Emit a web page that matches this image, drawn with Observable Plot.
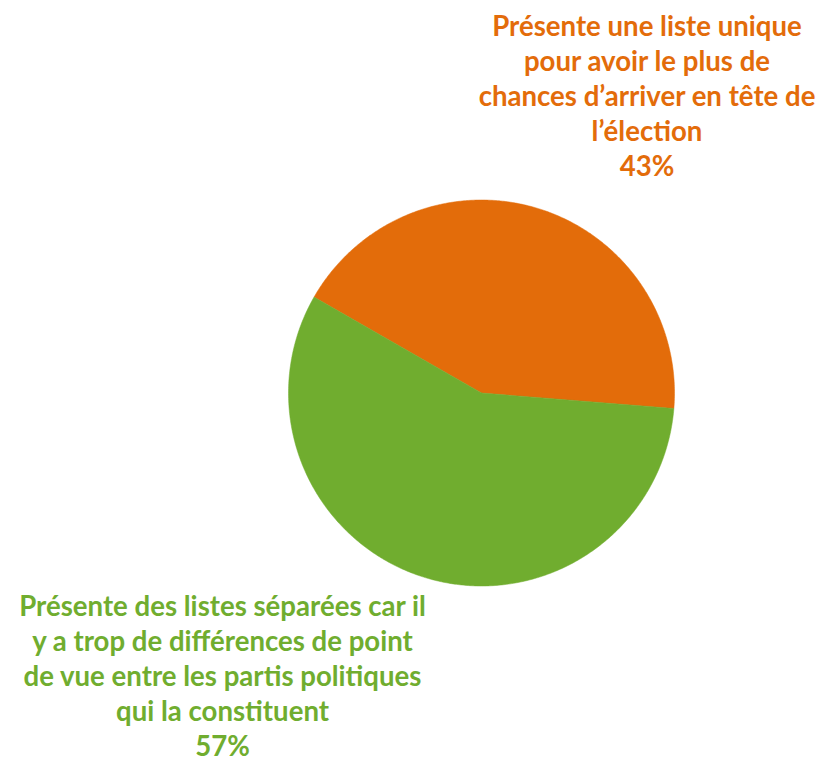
<!DOCTYPE html>
<html>
<head>
<meta charset="utf-8">
<script src="https://cdn.jsdelivr.net/npm/d3@7"></script>
<script src="https://cdn.jsdelivr.net/npm/@observablehq/plot@0.6"></script>
<style>
  html, body { margin: 0; padding: 0; background: #fff; }
  #chart svg { display: block; }
</style>
</head>
<body>
<div id="chart"></div>
<script>
// ---- data ----
const categories = [
  "Présente une liste unique pour avoir le plus de chances d’arriver en tête de l’élection",
  "Présente des listes séparées car il y a trop de différences de point de vue entre les partis politiques qui la constituent"
];
const labelLines = [
  ["Présente une liste unique", "pour avoir le plus de", "chances d’arriver en tête de", "l’élection"],
  ["Présente des listes séparées car il", "y a trop de différences de point", "de vue entre les partis politiques", "qui la constituent"]
];
const values = [43, 57];
const colors = ["#E36C0A", "#70AD2F"];

// ---- layout (style) ----
const W = 821, H = 760;
const cx = 481, cy = 392.5, R = 193;       // pie centre / radius in pixels
const startDeg = -60.2;                    // first slice start, clockwise from 12 o'clock
const fontSize = 27.6, lineH = 35;

// unit-circle coordinate system mapped to the page
const xDomain = [-cx / R, (W - cx) / R];
const yDomain = [-(H - cy) / R, cy / R];

// slice polygons
const total = d3.sum(values);
const slices = [];
let acc = 0;
values.forEach((v, i) => {
  const a0 = startDeg + acc / total * 360;
  const a1 = startDeg + (acc + v) / total * 360;
  acc += v;
  slices.push({k: i, x: 0, y: 0});
  const n = Math.max(2, Math.ceil((a1 - a0) / 0.5));
  for (let j = 0; j <= n; j++) {
    const a = (a0 + (a1 - a0) * j / n) * Math.PI / 180;
    slices.push({k: i, x: Math.sin(a), y: Math.cos(a)});
  }
  slices.push({k: i, x: 0, y: 0});
});

// labels: anchor (px) of last-line baseline
const labelAnchors = [{px: 646.5, py: 175}, {px: 222, py: 755}];
const labelData = values.map((v, i) => ({
  text: labelLines[i].join("\n") + "\n" + v + "%",
  x: (labelAnchors[i].px - cx) / R,
  y: (cy - labelAnchors[i].py) / R,
  color: colors[i]
}));

const plot = Plot.plot({
  width: W,
  height: H,
  margin: 0,
  x: {domain: xDomain, axis: null},
  y: {domain: yDomain, axis: null},
  style: {fontFamily: "Lato, sans-serif", background: "#fff"},
  marks: [
    Plot.line(slices, {x: "x", y: "y", z: "k", fill: d => colors[d.k], stroke: d => colors[d.k], strokeWidth: 0.5, curve: "linear-closed"}),
    Plot.text(labelData, {
      x: "x", y: "y", text: "text", fill: "color",
      fontSize, fontWeight: "bold", lineAnchor: "bottom", lineHeight: lineH / fontSize,
      textAnchor: "middle"
    })
  ]
});
document.getElementById("chart").appendChild(plot);
</script>
</body>
</html>
